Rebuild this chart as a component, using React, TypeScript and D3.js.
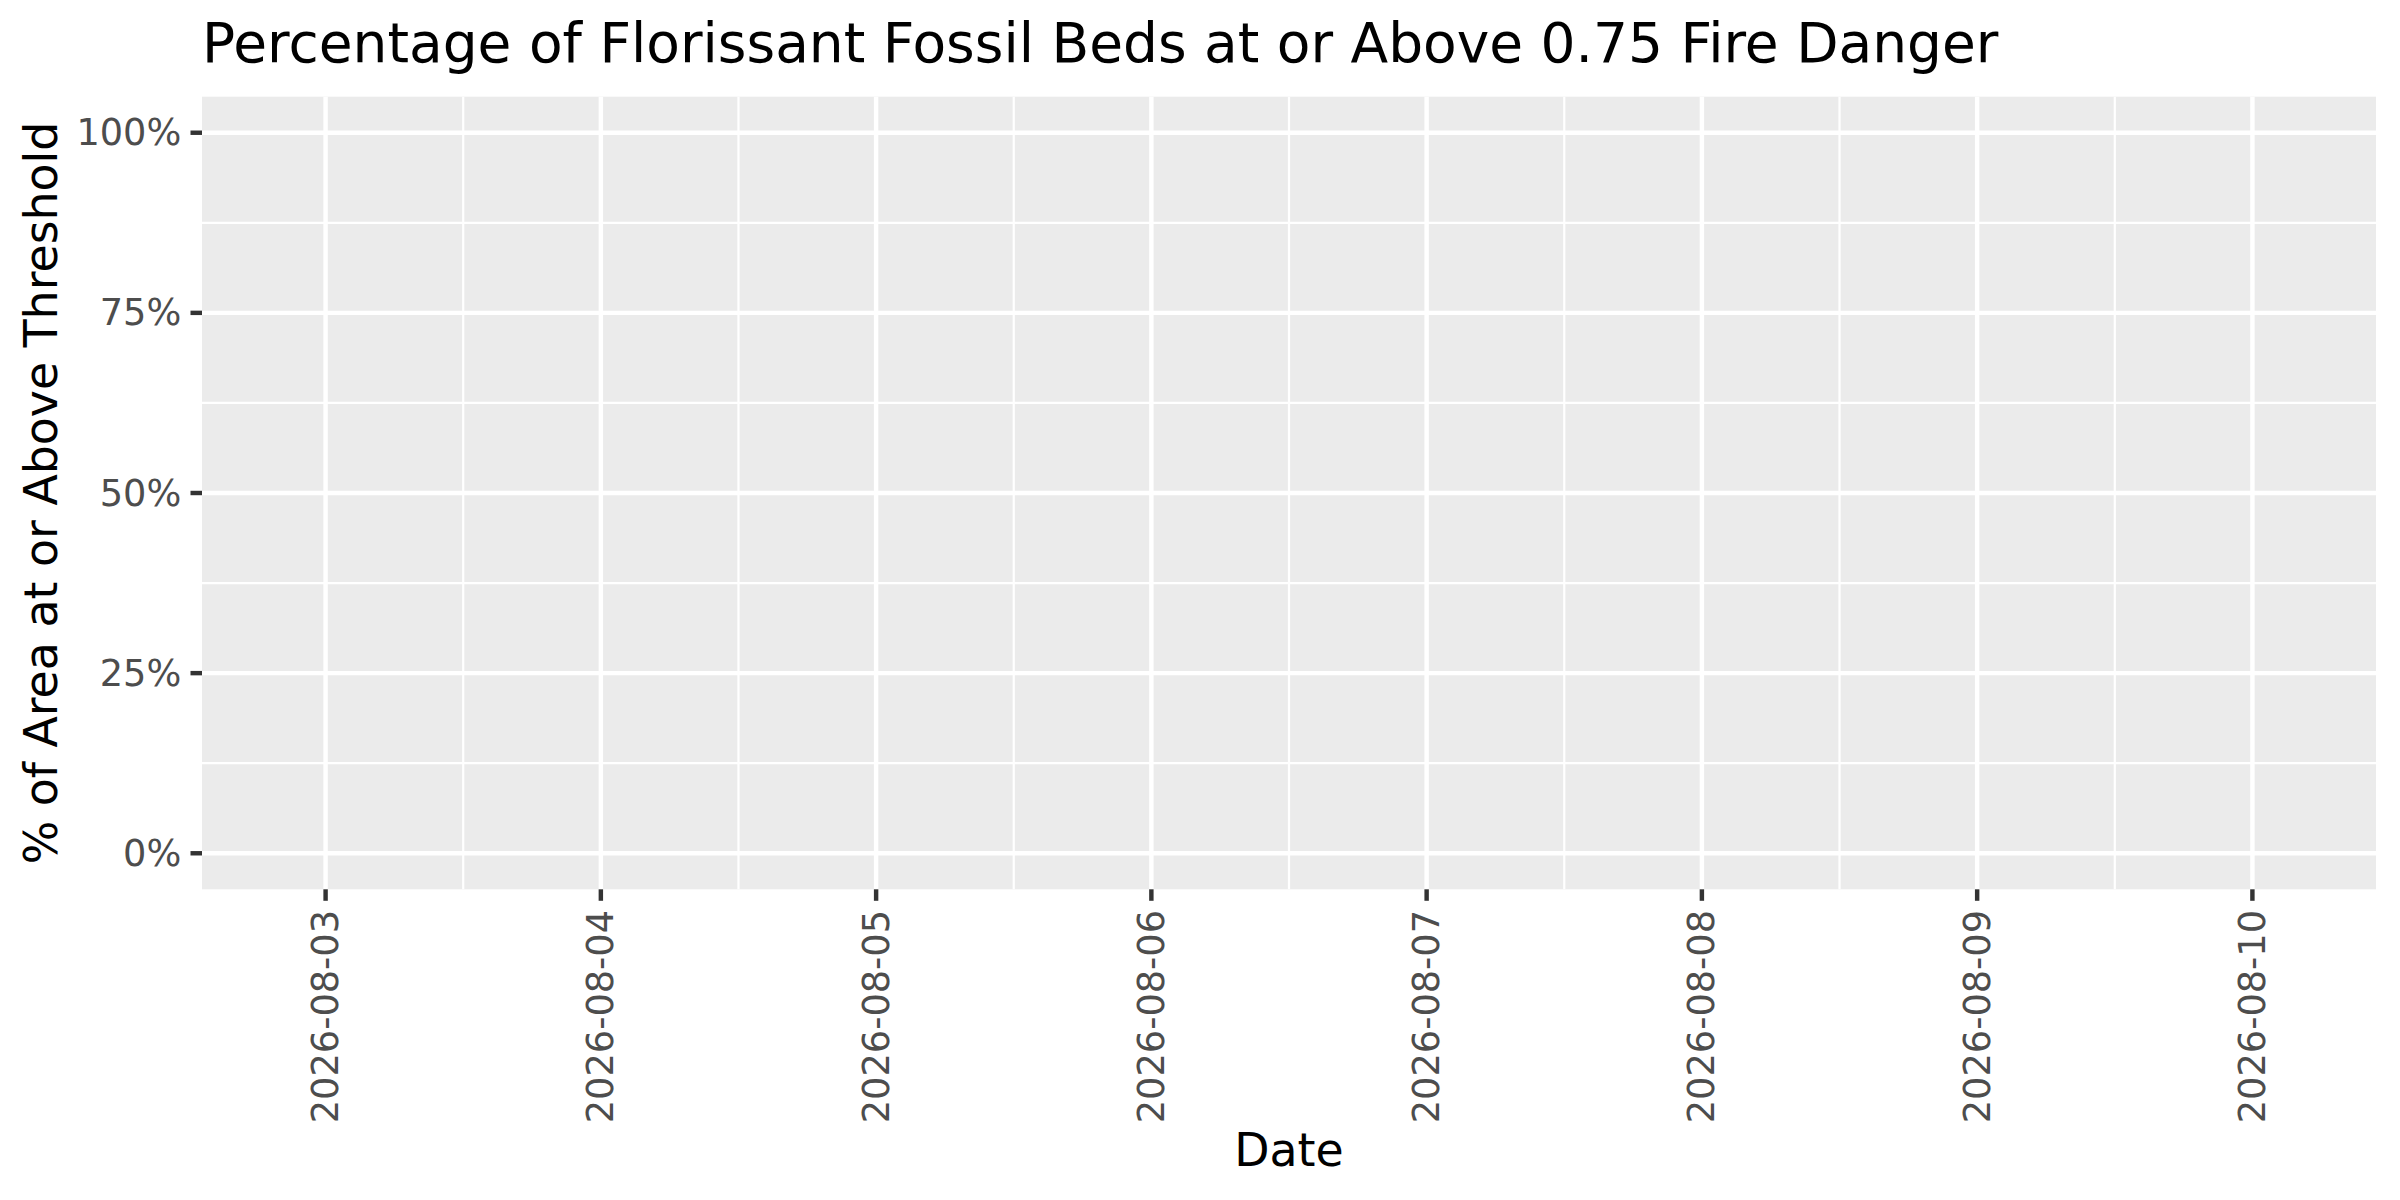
import React, { useRef, useEffect } from 'react';
import * as d3 from 'd3';

// dates on the x axis (one per day)
const dates = ['2026-08-03', '2026-08-04', '2026-08-05', '2026-08-06', '2026-08-07', '2026-08-08', '2026-08-09', '2026-08-10'];
// share of the area at or above the threshold: no values plotted in the source chart
const pctAbove: (number | null)[] = [null, null, null, null, null, null, null, null];
const yTicks = [0, 0.25, 0.5, 0.75, 1];

const title = 'Percentage of Florissant Fossil Beds at or Above 0.75 Fire Danger';
const xTitle = 'Date';
const yTitle = '% of Area at or Above Threshold';

const width = 2400;
const height = 1200;

const App: React.FC = () => {
  const svgRef = useRef<SVGSVGElement>(null);

  useEffect(() => {
    if (!svgRef.current) return;
    const svg = d3.select(svgRef.current);
    svg.selectAll('*').remove();

    const font = '"DejaVu Sans", sans-serif';
    const panel = { left: 202, right: 2376, top: 96.7, bottom: 889.3 };
    const gridW = 4.44;
    const tickLen = 11.5;

    const parse = d3.utcParse('%Y-%m-%d');
    const dayMs = 86400000;
    const parsed = dates.map(d => parse(d) as Date);
    const pad = 0.449 * dayMs;

    const x = d3.scaleUtc()
      .domain([new Date(+parsed[0] - pad), new Date(+parsed[parsed.length - 1] + pad)])
      .range([panel.left, panel.right]);

    const y = d3.scaleLinear()
      .domain([-0.05, 1.05])
      .range([panel.bottom, panel.top]);

    svg.append('rect')
      .attr('width', width)
      .attr('height', height)
      .attr('fill', '#ffffff');

    // panel background
    svg.append('rect')
      .attr('x', panel.left)
      .attr('y', panel.top)
      .attr('width', panel.right - panel.left)
      .attr('height', panel.bottom - panel.top)
      .attr('fill', '#EBEBEB');

    // minor grid
    const xMinor = parsed.slice(1).map((d, i) => new Date((+d + +parsed[i]) / 2));
    const yMinor = yTicks.slice(1).map((v, i) => (v + yTicks[i]) / 2);

    xMinor.forEach(d => {
      svg.append('line')
        .attr('x1', x(d)).attr('x2', x(d))
        .attr('y1', panel.top).attr('y2', panel.bottom)
        .attr('stroke', '#ffffff').attr('stroke-width', gridW / 2);
    });
    yMinor.forEach(v => {
      svg.append('line')
        .attr('x1', panel.left).attr('x2', panel.right)
        .attr('y1', y(v)).attr('y2', y(v))
        .attr('stroke', '#ffffff').attr('stroke-width', gridW / 2);
    });

    // major grid
    parsed.forEach(d => {
      svg.append('line')
        .attr('x1', x(d)).attr('x2', x(d))
        .attr('y1', panel.top).attr('y2', panel.bottom)
        .attr('stroke', '#ffffff').attr('stroke-width', gridW);
    });
    yTicks.forEach(v => {
      svg.append('line')
        .attr('x1', panel.left).attr('x2', panel.right)
        .attr('y1', y(v)).attr('y2', y(v))
        .attr('stroke', '#ffffff').attr('stroke-width', gridW);
    });

    // series (no defined values)
    const line = d3.line<{ date: Date; value: number | null }>()
      .defined(d => d.value !== null)
      .x(d => x(d.date))
      .y(d => y(d.value as number));

    svg.append('path')
      .datum(parsed.map((d, i) => ({ date: d, value: pctAbove[i] })))
      .attr('d', line)
      .attr('fill', 'none')
      .attr('stroke', '#000000')
      .attr('stroke-width', gridW);

    // y axis
    yTicks.forEach(v => {
      svg.append('line')
        .attr('x1', panel.left - tickLen).attr('x2', panel.left)
        .attr('y1', y(v)).attr('y2', y(v))
        .attr('stroke', '#333333').attr('stroke-width', gridW);
      svg.append('text')
        .attr('x', panel.left - tickLen - 9.2)
        .attr('y', y(v))
        .attr('text-anchor', 'end')
        .attr('dominant-baseline', 'central')
        .attr('font-family', font)
        .attr('font-size', 36.7)
        .attr('fill', '#4D4D4D')
        .text(d3.format('.0%')(v));
    });

    // x axis
    parsed.forEach((d, i) => {
      svg.append('line')
        .attr('x1', x(d)).attr('x2', x(d))
        .attr('y1', panel.bottom).attr('y2', panel.bottom + tickLen)
        .attr('stroke', '#333333').attr('stroke-width', gridW);
      svg.append('text')
        .attr('transform', `translate(${x(d)},${panel.bottom + tickLen + 9.2}) rotate(-90)`)
        .attr('text-anchor', 'end')
        .attr('dominant-baseline', 'central')
        .attr('font-family', font)
        .attr('font-size', 36.7)
        .attr('fill', '#4D4D4D')
        .text(dates[i]);
    });

    // axis titles
    svg.append('text')
      .attr('x', (panel.left + panel.right) / 2)
      .attr('y', 1166)
      .attr('text-anchor', 'middle')
      .attr('font-family', font)
      .attr('font-size', 45.8)
      .attr('fill', '#000000')
      .text(xTitle);

    svg.append('text')
      .attr('transform', `translate(57,${(panel.top + panel.bottom) / 2}) rotate(-90)`)
      .attr('text-anchor', 'middle')
      .attr('font-family', font)
      .attr('font-size', 45.8)
      .attr('fill', '#000000')
      .text(yTitle);

    // title
    svg.append('text')
      .attr('x', panel.left)
      .attr('y', 62)
      .attr('font-family', font)
      .attr('font-size', 55)
      .attr('fill', '#000000')
      .text(title);
  }, []);

  return (
    <svg
      ref={svgRef}
      width={width}
      height={height}
      style={{ position: 'absolute', left: 0, top: 0, display: 'block' }}
    />
  );
};

export default App;
